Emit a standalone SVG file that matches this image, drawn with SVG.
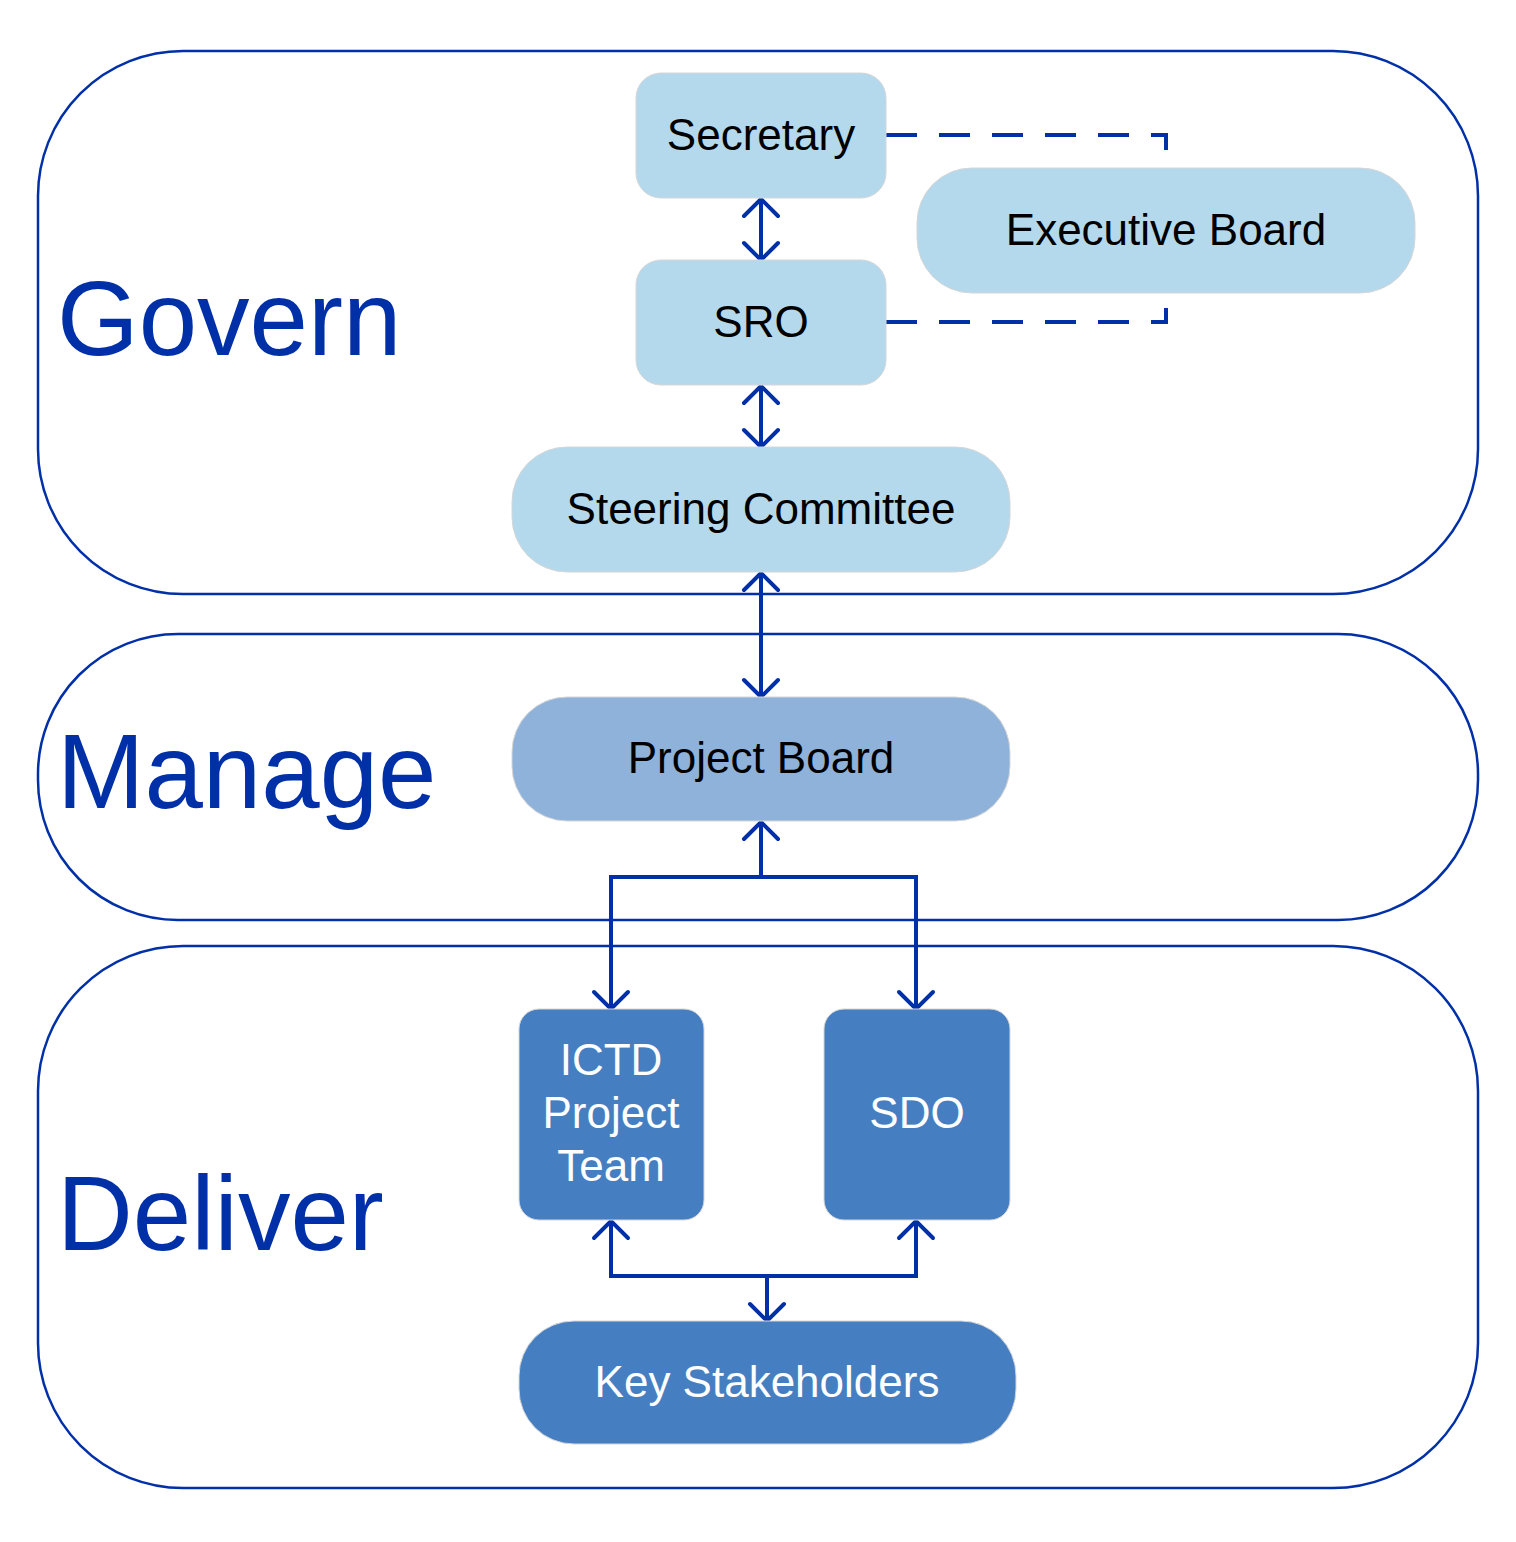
<svg xmlns="http://www.w3.org/2000/svg" width="1516" height="1542" viewBox="0 0 1516 1542">
<style>
.zone{fill:none;stroke:#0030A8;stroke-width:2.5}
.zl{font-family:"Liberation Sans",Arial,sans-serif;font-size:105px;fill:#0030A8}
.lt{fill:#B4D9EC;stroke:#D6D6D6;stroke-width:1}
.md{fill:#8EB2DA;stroke:#D6D6D6;stroke-width:1}
.dk{fill:#467FC1;stroke:#D6D6D6;stroke-width:1}
.t{font-family:"Liberation Sans",Arial,sans-serif;font-size:44px;text-anchor:middle;fill:#000}
.tw{font-family:"Liberation Sans",Arial,sans-serif;font-size:44px;text-anchor:middle;fill:#fff}
.c{fill:none;stroke:#0030A8;stroke-width:4;stroke-linecap:round;stroke-linejoin:miter}
.d{fill:none;stroke:#0030A8;stroke-width:4;stroke-dasharray:31 22}
</style>
<defs>
<marker id="ah" viewBox="-20 -20 40 40" markerWidth="40" markerHeight="40" refX="0" refY="0" orient="auto-start-reverse" markerUnits="userSpaceOnUse">
<path d="M-17,-17 L0,0 L-17,17" fill="none" stroke="#0030A8" stroke-width="4" stroke-linecap="round" stroke-linejoin="miter"/>
</marker>
</defs>
<g id="zones">
<rect class="zone" x="38" y="51" width="1440" height="543" rx="145" ry="145"/>
<rect class="zone" x="38" y="634" width="1440" height="286" rx="140" ry="140"/>
<rect class="zone" x="38" y="946" width="1440" height="542" rx="145" ry="145"/>
<text class="zl" x="57" y="355">Govern</text>
<text class="zl" x="57" y="808">Manage</text>
<text class="zl" x="57" y="1250">Deliver</text>
</g>
<g id="connectors">
<path class="d" d="M886,135 H1166 V150"/>
<path class="d" d="M886,322 H1166 V308"/>
<path class="c" d="M761,199 V260" marker-start="url(#ah)" marker-end="url(#ah)"/>
<path class="c" d="M761,386 V447" marker-start="url(#ah)" marker-end="url(#ah)"/>
<path class="c" d="M761,573 V697" marker-start="url(#ah)" marker-end="url(#ah)"/>
<path class="c" d="M761,877 V822" marker-end="url(#ah)"/>
<path class="c" d="M611,1009 V877 H916 V1009" marker-start="url(#ah)" marker-end="url(#ah)"/>
<path class="c" d="M611,1221 V1276 H916 V1221" marker-start="url(#ah)" marker-end="url(#ah)"/>
<path class="c" d="M767,1276 V1321" marker-end="url(#ah)"/>
</g>
<g id="secretary"><rect class="lt" x="636" y="73" width="250" height="125" rx="25"/><text class="t" x="761" y="150">Secretary</text></g>
<g id="executive-board"><rect class="lt" x="917" y="168" width="498" height="125" rx="55"/><text class="t" x="1166" y="245">Executive Board</text></g>
<g id="sro"><rect class="lt" x="636" y="260" width="250" height="125" rx="25"/><text class="t" x="761" y="337">SRO</text></g>
<g id="steering-committee"><rect class="lt" x="512" y="447" width="498" height="125" rx="55"/><text class="t" x="761" y="524">Steering Committee</text></g>
<g id="project-board"><rect class="md" x="512" y="697" width="498" height="124" rx="55"/><text class="t" x="761" y="773">Project Board</text></g>
<g id="ictd-project-team"><rect class="dk" x="519" y="1009" width="185" height="211" rx="20"/><text class="tw" x="611" y="1075">ICTD</text><text class="tw" x="611" y="1128">Project</text><text class="tw" x="611" y="1181">Team</text></g>
<g id="sdo"><rect class="dk" x="824" y="1009" width="186" height="211" rx="20"/><text class="tw" x="917" y="1128">SDO</text></g>
<g id="key-stakeholders"><rect class="dk" x="519" y="1321" width="497" height="123" rx="55"/><text class="tw" x="767" y="1397">Key Stakeholders</text></g>
</svg>
